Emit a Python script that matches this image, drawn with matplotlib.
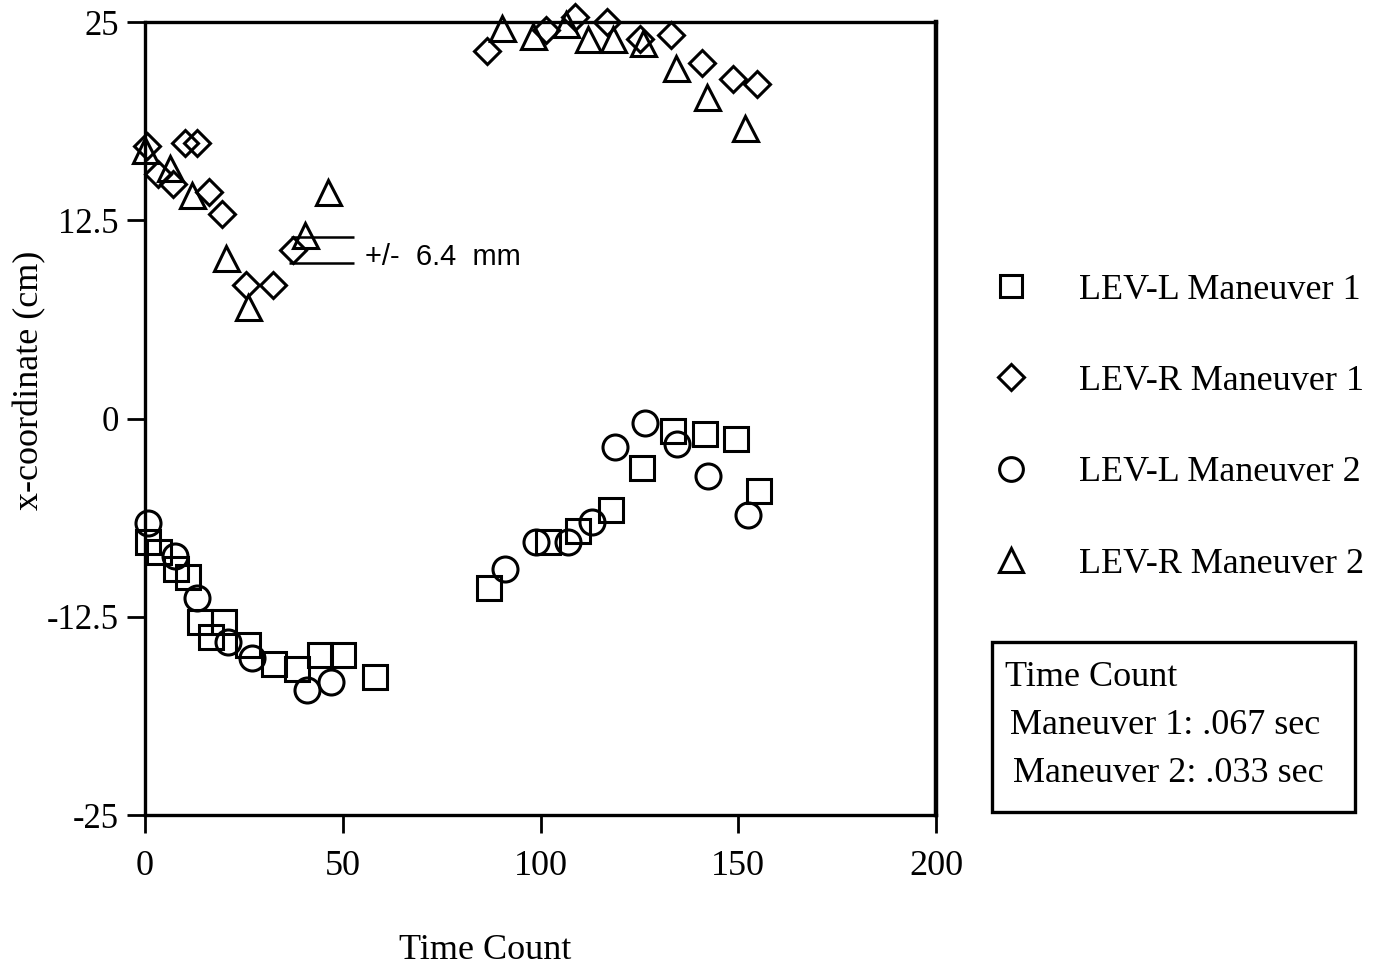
import matplotlib
matplotlib.use("Agg")
from matplotlib import pyplot as plt
from matplotlib.patches import Rectangle

plt.rcParams['font.family'] = ['Liberation Serif', 'DejaVu Serif']

# LEV-L Maneuver 1 (squares)
levl_m1_x = [0.8, 3.6, 7.8, 10.9, 13.9, 16.6, 20.0, 26.1, 32.6, 38.4, 44.2, 50.1, 58.2,
             87.1, 101.9, 109.6, 117.8, 125.6, 133.6, 141.6, 149.4, 155.3]
levl_m1_y = [-7.8, -8.4, -9.5, -10.0, -12.8, -13.8, -12.8, -14.3, -15.5, -15.8, -14.9, -14.9, -16.3,
             -10.7, -7.8, -7.1, -5.8, -3.1, -0.8, -1.0, -1.3, -4.6]

# LEV-R Maneuver 1 (diamonds)
levr_m1_x = [0.4, 3.4, 7.2, 10.1, 13.2, 16.3, 19.4, 25.5, 32.4, 37.3,
             86.4, 101.4, 108.7, 116.7, 125.2, 132.9, 140.8, 148.6, 154.7]
levr_m1_y = [17.2, 15.4, 14.8, 17.4, 17.4, 14.3, 12.9, 8.4, 8.4, 10.6,
             23.2, 24.5, 25.3, 25.0, 23.9, 24.2, 22.4, 21.4, 21.1]

# LEV-L Maneuver 2 (circles)
levl_m2_x = [0.8, 7.6, 13.1, 21.1, 27.0, 40.9, 47.0,
             91.0, 98.9, 106.9, 112.9, 118.8, 126.4, 134.4, 142.4, 152.5]
levl_m2_y = [-6.6, -8.7, -11.3, -14.1, -15.1, -17.1, -16.6,
             -9.5, -7.8, -7.8, -6.5, -1.8, -0.3, -1.6, -3.6, -6.1]

# LEV-R Maneuver 2 (triangles)
levr_m2_x = [0.0, 6.2, 11.8, 20.5, 26.1, 40.5, 46.3,
             90.2, 98.2, 106.4, 112.1, 118.4, 126.0, 134.3, 142.0, 151.7]
levr_m2_y = [16.9, 15.8, 14.1, 10.1, 7.0, 11.6, 14.3,
             24.6, 24.1, 24.9, 23.9, 23.9, 23.7, 22.1, 20.3, 18.3]

x_ticks = [0, 50, 100, 150, 200]
y_ticks = [25, 12.5, 0, -12.5, -25]
y_tick_labels = ['25', '12.5', '0', '-12.5', '-25']

# error bar annotation
err_upper = 11.44
err_lower = 9.82
err_x0, err_x1 = 36.5, 52.8

fig = plt.figure(figsize=(13.93, 9.71), dpi=100)
ax = fig.add_axes([145 / 1393, 1 - 815 / 971, 791 / 1393, 793 / 971])

mew = 2.2
kw = dict(linestyle='none', markerfacecolor='none', markeredgecolor='black',
          markeredgewidth=mew, clip_on=False)
ax.plot(levl_m1_x, levl_m1_y, marker='s', markersize=17, label='LEV-L Maneuver 1', **kw)
ax.plot(levr_m1_x, levr_m1_y, marker='D', markersize=13.5, label='LEV-R Maneuver 1', **kw)
ax.plot(levl_m2_x, levl_m2_y, marker='o', markersize=18, label='LEV-L Maneuver 2', **kw)
ax.plot(levr_m2_x, levr_m2_y, marker='^', markersize=18, label='LEV-R Maneuver 2', **kw)

ax.hlines([err_upper, err_lower], [err_x0 + 0.3, err_x0], err_x1, color='black', linewidth=1.8)
ax.text(55.6, (err_upper + err_lower) / 2 - 0.45, '+/-  6.4  mm', family='Liberation Sans',
        fontsize=21, ha='left', va='center')

ax.set_xlim(0, 200)
ax.set_ylim(-25, 25)
ax.set_xticks(x_ticks)
ax.set_yticks(y_ticks)
ax.set_yticklabels(y_tick_labels)
ax.tick_params(axis='both', direction='out', length=13, width=2, labelsize=25)
ax.tick_params(axis='x', pad=12, labelsize=26)
ax.tick_params(axis='y', pad=6)
for side in ['left', 'bottom', 'top']:
    ax.spines[side].set_linewidth(2.4)
ax.spines['right'].set_linewidth(3.2)

fig.text(30 / 1393, 1 - 380 / 971, 'x-coordinate (cm)', rotation=90, fontsize=26,
         ha='center', va='center')
fig.text(485 / 1393, 1 - 950 / 971, 'Time Count', fontsize=26, ha='center', va='center')

fig.legend(loc='center left', bbox_to_anchor=(960 / 1393, 1 - 427 / 971), frameon=False,
           fontsize=26, markerscale=0.95, handlelength=1.0, handletextpad=1.4,
           labelspacing=1.61, numpoints=1)

# text box
box = Rectangle((992 / 1393, 1 - 812 / 971), 363 / 1393, 170 / 971, transform=fig.transFigure,
                fill=False, edgecolor='black', linewidth=2.4)
fig.patches.append(box)
fig.text(1005 / 1393, 1 - 677 / 971, 'Time Count', fontsize=26, ha='left', va='center')
fig.text(1010 / 1393, 1 - 725 / 971, 'Maneuver 1: .067 sec', fontsize=26, ha='left', va='center')
fig.text(1013 / 1393, 1 - 773 / 971, 'Maneuver 2: .033 sec', fontsize=26, ha='left', va='center')

fig.savefig('out.png', dpi=100)
